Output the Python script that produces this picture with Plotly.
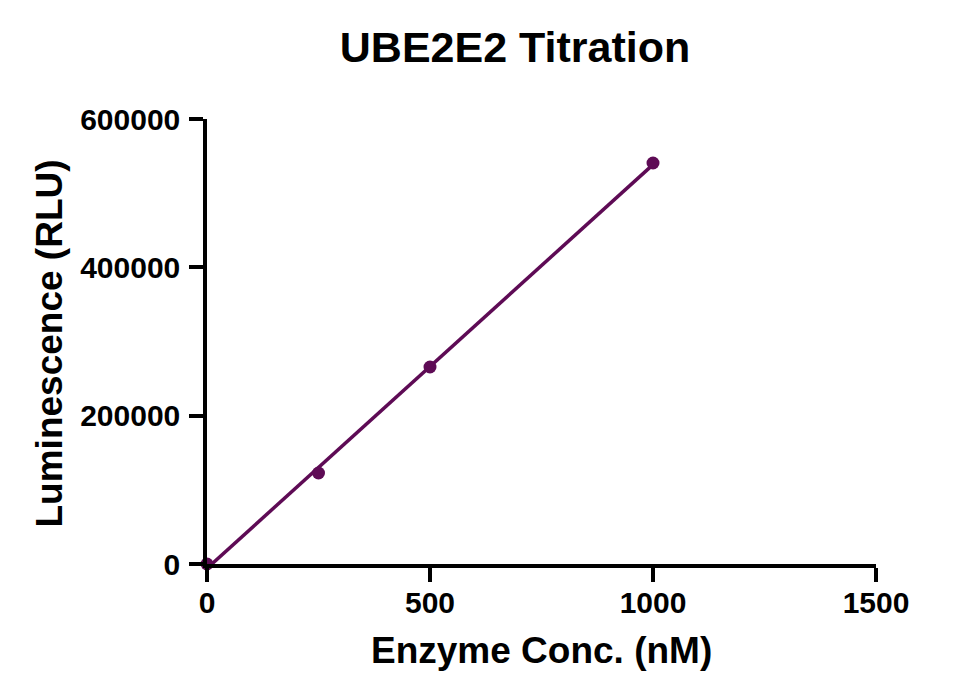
import numpy as np
import plotly.graph_objects as go

conc_nM = [0, 250, 500, 1000]
luminescence = [0, 122700, 265600, 540700]

# linear regression line over the data range
slope, intercept = np.polyfit(conc_nM, luminescence, 1)
fit_x = [0, 1000]
fit_y = [intercept + slope * x for x in fit_x]

x_ticks = [0, 500, 1000, 1500]
y_ticks = [0, 200000, 400000, 600000]

color = "#5e0b55"
font = "Liberation Sans, Arial, sans-serif"

fig = go.Figure()
fig.add_trace(go.Scatter(x=fit_x, y=fit_y, mode="lines",
                         line=dict(color=color, width=3.5), showlegend=False,
                         cliponaxis=False))
fig.add_trace(go.Scatter(x=conc_nM, y=luminescence, mode="markers",
                         marker=dict(color=color, size=13), showlegend=False,
                         cliponaxis=False))

fig.update_layout(
    width=961, height=687,
    paper_bgcolor="white", plot_bgcolor="white",
    margin=dict(l=199, r=93, t=111, b=131),
    title=dict(text="<b>UBE2E2 Titration</b>", x=0.5276, xanchor="center",
               y=0.943, yanchor="middle",
               font=dict(family=font, size=43, color="black")),
    font=dict(family=font, color="black"),
    annotations=[
        dict(text="<b>Enzyme Conc. (nM)</b>", xref="paper", yref="paper",
             x=0.5, y=-0.1955, xanchor="center", yanchor="middle", showarrow=False,
             font=dict(size=37, family=font, color="black")),
        dict(text="<b>Luminescence (RLU)</b>", xref="paper", yref="paper",
             x=-0.2347, y=0.4955, xanchor="center", yanchor="middle", showarrow=False,
             textangle=-90, font=dict(size=37, family=font, color="black")),
    ],
)
fig.update_xaxes(
    range=[0, 1500], tickvals=x_ticks, ticktext=[f"<b>{v}</b>" for v in x_ticks],
    showgrid=False, zeroline=False, showline=True, linecolor="black", linewidth=3.5,
    ticks="outside", ticklen=14, tickwidth=3.5, tickcolor="black",
    tickfont=dict(size=30, family=font, color="black"), ticklabelstandoff=-5,
)
fig.update_yaxes(
    range=[0, 600000], tickvals=y_ticks, ticktext=[f"<b>{v}</b>" for v in y_ticks],
    showgrid=False, zeroline=False, showline=True, linecolor="black", linewidth=3.5,
    ticks="outside", ticklen=14, tickwidth=3.5, tickcolor="black",
    tickfont=dict(size=30, family=font, color="black"), ticklabelstandoff=3,
)

fig.write_html("out.html")
